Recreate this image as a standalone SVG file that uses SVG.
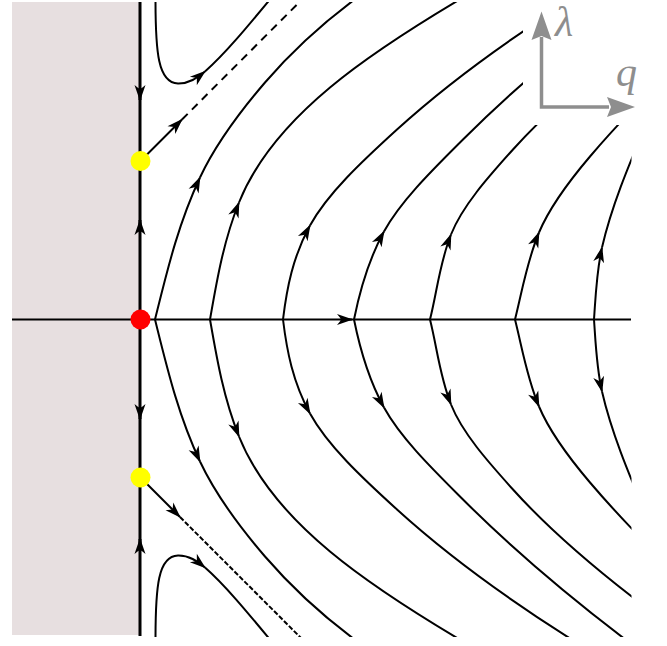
<svg xmlns="http://www.w3.org/2000/svg" width="667" height="646" viewBox="0 0 667 646">
<style>
.fl{fill:none;stroke:#000;stroke-width:2;stroke-linecap:butt}
.ax{fill:none;stroke:#000;stroke-width:1.8}
.vl{fill:none;stroke:#000;stroke-width:3}
.lg{fill:none;stroke:#8e8e8e;stroke-width:3.5}
.lgt{font-family:"Liberation Serif","DejaVu Serif",serif;font-style:italic;font-size:42px;fill:#8e8e8e}
</style>
<defs>
<marker id="arr" viewBox="-17 -6 19 12" refX="-1" refY="0" markerWidth="19" markerHeight="12" markerUnits="userSpaceOnUse" orient="auto">
<path d="M0,0 L-16,-5.5 L-11.5,0 L-16,5.5 Z" fill="#000"/>
</marker>
<clipPath id="plot"><path d="M12,2 H523 V125 H631.5 V637 H12 Z"/></clipPath>
</defs>
<rect id="region" x="12" y="2" width="128" height="633" fill="#e7dfe0"/>
<g id="connectors">
<line class="ax" x1="12" y1="319.5" x2="631" y2="319.5"/>
<path class="ax" d="M340,319.5 L352,319.5" marker-end="url(#arr)"/>
<line class="vl" x1="140" y1="2" x2="140" y2="636"/>
<path class="vl" d="M140,88 L140,100" marker-end="url(#arr)"/>
<path class="vl" d="M140,232 L140,220" marker-end="url(#arr)"/>
<path class="vl" d="M140,407 L140,419" marker-end="url(#arr)"/>
<path class="vl" d="M140,551 L140,539" marker-end="url(#arr)"/>
<g clip-path="url(#plot)">
<g id="upper">
<path class="fl" d="M155.5,0 C155.5,52 158,83 178,83.5 C189,83.7 197,78 205,71.5" marker-end="url(#arr)"/>
<path class="fl" d="M205,71.5 C225,54 248,26 272,-3"/>
<path class="fl" d="M155,319.5 C166.8,272.2 177.8,224.8 200,177.5" marker-end="url(#arr)"/>
<path class="fl" d="M200,177.5 C214.9,145.8 237.8,114.2 265,82.5 C294.5,48.2 331.5,13.8 383,-20.5"/>
<path class="fl" d="M210,319.5 C216.8,280.5 223.4,241.5 239,202.5" marker-end="url(#arr)"/>
<path class="fl" d="M239,202.5 C254.3,164.2 284,125.8 330,87.5 C373.2,51.5 431,15.5 494,-20.5"/>
<path class="fl" d="M283,319.5 C286.8,288.2 292.8,256.8 310,225.5" marker-end="url(#arr)"/>
<path class="fl" d="M310,225.5 C327.6,193.5 361.8,161.5 397,129.5 C452,79.5 521.5,29.5 604,-20.5"/>
<path class="fl" d="M354,319.5 C359.9,290.2 367.9,260.8 384,231.5" marker-end="url(#arr)"/>
<path class="fl" d="M384,231.5 C400.9,200.8 432.3,170.2 463,139.5 C516.3,86.2 580,32.8 652,-20.5"/>
<path class="fl" d="M430,319.5 C437.1,291.2 439.7,262.8 451,234.5" marker-end="url(#arr)"/>
<path class="fl" d="M451,234.5 C462.3,206.2 487.5,177.8 513,149.5 C552,106.2 603.5,62.8 662,19.5"/>
<path class="fl" d="M515,319.5 C522.3,290.5 526.8,261.5 539,232.5" marker-end="url(#arr)"/>
<path class="fl" d="M539,232.5 C549.6,207.2 568.5,181.8 590,156.5 C617.5,124.2 649,91.8 683,59.5"/>
<path class="fl" d="M594,319.5 C595.7,295.5 596.5,271.5 602,247.5" marker-end="url(#arr)"/>
<path class="fl" d="M602,247.5 C611.8,204.8 630.1,162.2 648,119.5"/>
</g>
<use href="#upper" transform="translate(0,639) scale(1,-1)"/>
<path class="fl" d="M140.5,161 L182,119.5" marker-end="url(#arr)"/>
<path class="fl" d="M182,119.5 L301,0.5" stroke-dasharray="8 6"/>
<path class="fl" d="M140.5,477.5 L180,517" marker-end="url(#arr)"/>
<path class="fl" d="M180,517 L301,638" stroke-width="1.4" stroke-dasharray="5 2"/>
</g>
</g>
<g id="fixed-points">
<g id="fp-red"><circle cx="140.5" cy="319.5" r="10" fill="#ff0000"/></g>
<g id="fp-yellow-top"><circle cx="140.5" cy="161" r="10" fill="#ffff00"/></g>
<g id="fp-yellow-bottom"><circle cx="140.5" cy="477.5" r="10" fill="#ffff00"/></g>
</g>
<g id="legend">
<path class="lg" d="M541.5,37 V107 H609"/>
<path d="M541.5,11.5 L551.5,40 L541.5,36 L531.5,40 Z" fill="#8e8e8e"/>
<path d="M635,107 L607,117 L611,107 L607,97 Z" fill="#8e8e8e"/>
<text class="lgt" x="555" y="36">λ</text>
<text class="lgt" x="616" y="86">q</text>
</g>
</svg>
